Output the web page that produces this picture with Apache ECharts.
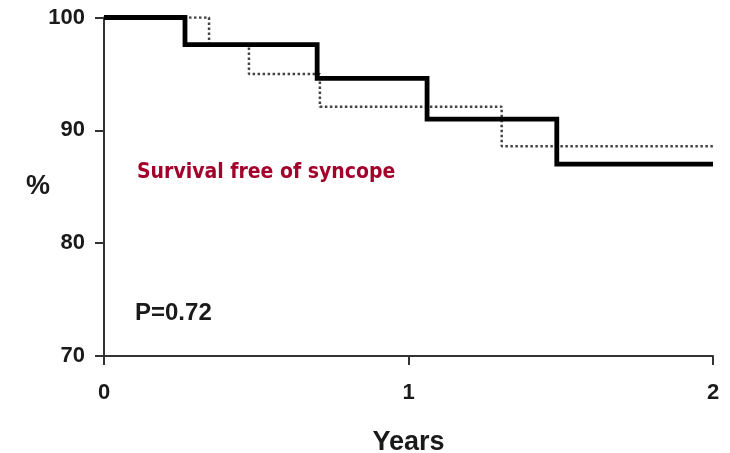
<!DOCTYPE html>
<html>
<head>
<meta charset="utf-8">
<script src="https://cdn.jsdelivr.net/npm/echarts@6/dist/echarts.min.js"></script>
<style>
  html, body { margin: 0; padding: 0; background: #fff; }
  #chart { width: 730px; height: 453px; }
</style>
</head>
<body>
<div id="chart"></div>
<script>
// Kaplan-Meier step curves (time in years, % event-free)
const solidTimes = [0, 0.266, 0.700, 1.061, 1.487, 2.0];
const solidSurv  = [100, 97.6, 94.6, 91.0, 87.0, 87.0];
const dottedTimes = [0, 0.345, 0.476, 0.709, 1.306, 2.0];
const dottedSurv  = [100, 97.6, 95.0, 92.1, 88.6, 88.6];

const xTicks = [0, 1, 2];
const yTicks = [70, 80, 90, 100];

const annotation = 'Survival free of syncope';
const pValueText = 'P=0.72';

const pair = (xs, ys) => xs.map((x, i) => [x, ys[i]]);

const chart = echarts.init(document.getElementById('chart'), null, { renderer: 'canvas' });

const axisFont = { fontFamily: 'Liberation Sans, Arial, sans-serif', fontWeight: 'bold', color: '#1a1a1a' };

chart.setOption({
  animation: false,
  backgroundColor: '#fff',
  grid: {
    left: 104, right: 17, top: 17.5, bottom: 97,
    containLabel: false,
    outerBoundsMode: 'none'
  },
  xAxis: {
    type: 'value',
    min: xTicks[0],
    max: xTicks[xTicks.length - 1],
    interval: 1,
    name: 'Years',
    nameLocation: 'middle',
    nameGap: 73,
    nameMoveOverlap: false,
    nameTextStyle: Object.assign({ fontSize: 27 }, axisFont),
    axisLine: { show: true, onZero: false, lineStyle: { color: '#333', width: 2 } },
    axisTick: { show: true, length: 9, lineStyle: { color: '#333', width: 2 } },
    axisLabel: Object.assign({ fontSize: 22, margin: 26 }, axisFont),
    splitLine: { show: false }
  },
  yAxis: {
    type: 'value',
    min: yTicks[0],
    max: yTicks[yTicks.length - 1],
    interval: 10,
    name: '%',
    nameLocation: 'middle',
    nameRotate: 0,
    nameGap: 54,
    nameMoveOverlap: false,
    nameTextStyle: Object.assign({ fontSize: 27 }, axisFont),
    axisLine: { show: true, onZero: false, lineStyle: { color: '#333', width: 2 } },
    axisTick: { show: true, length: 9, lineStyle: { color: '#333', width: 2 } },
    axisLabel: Object.assign({ fontSize: 22, margin: 19 }, axisFont),
    splitLine: { show: false }
  },
  series: [
    {
      name: 'dotted',
      type: 'line',
      step: 'end',
      data: pair(dottedTimes, dottedSurv),
      symbol: 'none',
      z: 2,
      lineStyle: { color: '#444', width: 2.5, type: [2.5, 2.5] }
    },
    {
      name: 'solid',
      type: 'line',
      step: 'end',
      data: pair(solidTimes, solidSurv),
      symbol: 'none',
      z: 3,
      lineStyle: { color: '#000', width: 4.8, cap: 'butt', join: 'miter' }
    }
  ],
  graphic: [
    {
      type: 'text',
      left: 137,
      top: 162,
      style: {
        text: annotation,
        fontFamily: 'DejaVu Sans Condensed, DejaVu Sans, sans-serif',
        fontWeight: 'bold',
        fontSize: 21,
        fill: '#a3002b'
      }
    },
    {
      type: 'text',
      left: 135,
      top: 301,
      style: {
        text: pValueText,
        fontFamily: 'Liberation Sans, Arial, sans-serif',
        fontWeight: 'bold',
        fontSize: 24,
        fill: '#1a1a1a'
      }
    }
  ]
});
</script>
</body>
</html>
